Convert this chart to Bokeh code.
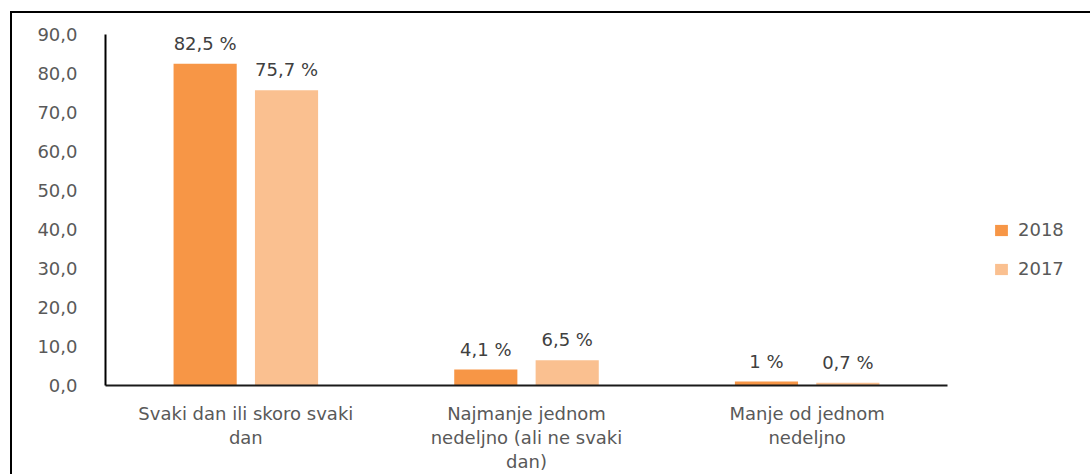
from bokeh.plotting import figure
from bokeh.models import (ColumnDataSource, FactorRange, FixedTicker, LabelSet, Legend,
                          LegendItem, CategoricalAxis, CustomJSTickFormatter)
from bokeh.core.properties import value
from bokeh.transform import dodge
from bokeh.embed import file_html
from bokeh.resources import INLINE

categories = ["Svaki dan ili skoro svaki dan",
              "Najmanje jednom nedeljno (ali ne svaki dan)",
              "Manje od jednom nedeljno"]
category_labels = ["Svaki dan ili skoro svaki\ndan",
                   "Najmanje jednom\nnedeljno (ali ne svaki\ndan)",
                   "Manje od jednom\nnedeljno"]
series_names = ["2018", "2017"]
values_2018 = [82.5, 4.1, 1.0]
values_2017 = [75.7, 6.5, 0.7]
y_ticks = [0, 10, 20, 30, 40, 50, 60, 70, 80, 90]
y_tick_labels = ["0,0", "10,0", "20,0", "30,0", "40,0", "50,0", "60,0", "70,0", "80,0", "90,0"]

def fmt(v):
    return f"{v:g}".replace(".", ",") + " %"

FONT = "DejaVu Sans"
TICK_COLOR = "#595959"
LABEL_COLOR = "#404040"
C2018 = "#F79646"
C2017 = "#FAC090"

src = ColumnDataSource(dict(
    cat=categories,
    v2018=values_2018,
    v2017=values_2017,
    l2018=[fmt(v) for v in values_2018],
    l2017=[fmt(v) for v in values_2017],
))

p = figure(x_range=FactorRange(*categories), y_range=(0, 90),
           frame_width=842, frame_height=351, output_backend="svg", toolbar_location=None,
           min_border_left=93, min_border_right=130, min_border_top=21, min_border_bottom=0)
p.margin = (11, 0, 0, 10)
p.styles = {"border-left": "2px solid #000", "border-top": "2px solid #000"}
p.outline_line_color = None
p.xgrid.grid_line_color = None
p.ygrid.grid_line_color = None

r1 = p.vbar(x=dodge("cat", -0.145, range=p.x_range), top="v2018", width=0.225,
            source=src, fill_color=C2018, line_color=None)
r2 = p.vbar(x=dodge("cat", 0.145, range=p.x_range), top="v2017", width=0.225,
            source=src, fill_color=C2017, line_color=None)

for off, ycol, col in [(-0.145, "v2018", "l2018"), (0.145, "v2017", "l2017")]:
    ls = LabelSet(x=dodge("cat", off, range=p.x_range), y=ycol,
                  text=col, source=src, text_align="center", text_baseline="alphabetic",
                  y_offset=14, text_font=value(FONT), text_font_size="18px",
                  text_color=LABEL_COLOR)
    p.add_layout(ls)

# y axis
p.yaxis.ticker = FixedTicker(ticks=y_ticks)
p.yaxis.major_label_overrides = {t: l for t, l in zip(y_ticks, y_tick_labels)}
p.yaxis.major_tick_line_color = None
p.yaxis.minor_tick_line_color = None
p.yaxis.axis_line_color = "#000000"
p.yaxis.axis_line_width = 2
p.yaxis.major_label_standoff = 22
p.yaxis.major_label_text_font = FONT
p.yaxis.major_label_text_font_size = "18px"
p.yaxis.major_label_text_color = TICK_COLOR

# x axis: one axis per text line of the category labels
lines = [lbl.split("\n") for lbl in category_labels]
n_lines = max(len(l) for l in lines)
axes = [p.xaxis[0]]
for i in range(1, n_lines):
    ax = CategoricalAxis()
    p.add_layout(ax, "below")
    axes.append(ax)
for i, ax in enumerate(axes):
    line_texts = [(l[i] if i < len(l) else "") for l in lines]
    ax.formatter = CustomJSTickFormatter(
        args=dict(cats=categories, labs=line_texts),
        code="const k = cats.indexOf(tick); return k >= 0 ? labs[k] : '';")
    ax.major_tick_line_color = None
    ax.minor_tick_line_color = None
    ax.major_label_text_font = FONT
    ax.major_label_text_font_size = "18px"
    ax.major_label_text_color = TICK_COLOR
    if i == 0:
        ax.axis_line_color = "#1a1a1a"
        ax.axis_line_width = 2
        ax.major_label_standoff = 11
    else:
        ax.axis_line_color = None
        ax.major_label_standoff = -6

legend = Legend(items=[LegendItem(label=series_names[0], renderers=[r1]),
                       LegendItem(label=series_names[1], renderers=[r2])],
                location=(46, 106), orientation="vertical",
                glyph_width=16, glyph_height=14, label_standoff=9, spacing=18,
                label_text_font=FONT, label_text_font_size="18px", label_text_color=TICK_COLOR,
                border_line_color=None, background_fill_alpha=0)
p.add_layout(legend, "right")

open("out.html", "w").write(file_html(p, INLINE))
